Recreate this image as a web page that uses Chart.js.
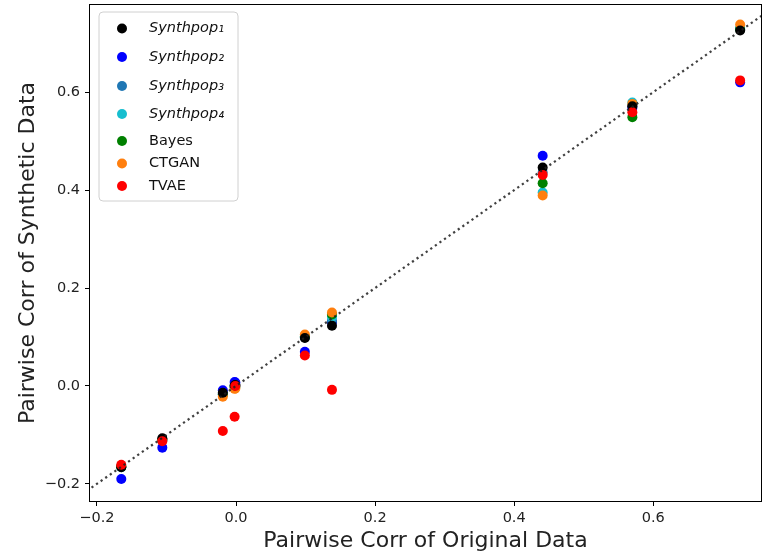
<!DOCTYPE html>
<html><head><meta charset="utf-8">
<script src="https://cdn.jsdelivr.net/npm/chart.js@4"></script>
<style>html,body{margin:0;padding:0;background:#fff}</style>
</head><body>
<canvas id="c" width="762" height="558"></canvas>
<script>
// ---- data ----
const xOriginal = [-0.165, -0.106, -0.019, -0.002, -0.001, 0.099, 0.138, 0.441, 0.570, 0.725];
const synthpop1 = [-0.166, -0.107, -0.014, 0.001, 0.002, 0.098, 0.123, 0.446, 0.571, 0.726];
const synthpop2 = [-0.190, -0.126, -0.009, 0.008, 0.007, 0.070, 0.130, 0.470, 0.568, 0.620];
const synthpop3 = [-0.164, -0.109, -0.016, 0.000, 0.001, 0.099, 0.133, 0.436, 0.573, 0.729];
const synthpop4 = [-0.166, -0.111, -0.017, -0.001, 0.000, 0.100, 0.141, 0.395, 0.579, 0.731];
const bayes     = [-0.165, -0.110, -0.018, -0.003, -0.002, 0.101, 0.146, 0.414, 0.549, 0.728];
const ctgan     = [-0.164, -0.110, -0.022, -0.006, -0.005, 0.105, 0.150, 0.389, 0.576, 0.738];
const tvae      = [-0.161, -0.113, -0.092, -0.063, 0.000, 0.062, -0.008, 0.431, 0.559, 0.624];
const seriesNames = ['Synthpop\u2081', 'Synthpop\u2082', 'Synthpop\u2083', 'Synthpop\u2084', 'Bayes', 'CTGAN', 'TVAE'];
const seriesValues = [synthpop1, synthpop2, synthpop3, synthpop4, bayes, ctgan, tvae];
const xTicks = [-0.2, 0.0, 0.2, 0.4, 0.6];
const yTicks = [-0.2, 0.0, 0.2, 0.4, 0.6];
const identityLine = [-0.3, 0.9];

// ---- styles ----
const colors = ['#000000', '#0000ff', '#1f77b4', '#17becf', '#008000', '#ff7f0e', '#ff0000'];
const drawOrder = [2, 7, 6, 5, 4, 3, 1]; // lower = on top
const FONT = '"DejaVu Sans", Verdana, sans-serif';

const datasets = seriesNames.map((name, i) => ({
  type: 'scatter',
  label: name,
  data: xOriginal.map((x, k) => ({x: x, y: seriesValues[i][k]})),
  backgroundColor: colors[i],
  borderWidth: 0,
  pointRadius: 5,
  pointHoverRadius: 5,
  order: drawOrder[i]
}));
datasets.push({
  type: 'line',
  label: 'y = x',
  data: identityLine.map(v => ({x: v, y: v})),
  borderColor: 'rgba(30,30,30,0.85)',
  borderWidth: 2.2,
  borderDash: [2.2, 3.4],
  pointRadius: 0,
  fill: false,
  order: 0
});

const fmt = v => (v < 0 ? '\u2212' : '') + Math.abs(v).toFixed(1);

const framePlugin = {
  id: 'frame',
  afterDraw(chart) {
    const {ctx, chartArea: a} = chart;
    ctx.save();
    ctx.strokeStyle = '#000';
    ctx.lineWidth = 1;
    ctx.strokeRect(a.left - 0.5, a.top - 0.5, a.right - a.left + 1, a.bottom - a.top + 1);
    ctx.restore();
  }
};

const legendPlugin = {
  id: 'customLegend',
  afterDraw(chart) {
    const ctx = chart.ctx;
    const a = chart.chartArea;
    const bx = a.left + 9, by = a.top + 7, bw = 139, bh = 189, r = 4;
    ctx.save();
    ctx.beginPath();
    ctx.moveTo(bx + r, by);
    ctx.arcTo(bx + bw, by, bx + bw, by + bh, r);
    ctx.arcTo(bx + bw, by + bh, bx, by + bh, r);
    ctx.arcTo(bx, by + bh, bx, by, r);
    ctx.arcTo(bx, by, bx + bw, by, r);
    ctx.closePath();
    ctx.fillStyle = 'rgba(255,255,255,0.85)';
    ctx.fill();
    ctx.strokeStyle = '#d0d0d0';
    ctx.lineWidth = 1;
    ctx.stroke();
    const rows = [23.5, 52, 81, 109, 136, 158.5, 181];
    seriesNames.forEach((name, i) => {
      const y = a.top + rows[i];
      ctx.beginPath();
      ctx.arc(a.left + 32, y, 5, 0, Math.PI * 2);
      ctx.fillStyle = colors[i];
      ctx.fill();
      const italic = name.indexOf('Synthpop') === 0;
      ctx.font = (italic ? 'italic ' : '') + '14.5px ' + FONT;
      ctx.fillStyle = '#111';
      ctx.textBaseline = 'middle';
      ctx.textAlign = 'left';
      ctx.fillText(name, a.left + 59, y);
    });
    ctx.restore();
  }
};

new Chart(document.getElementById('c'), {
  data: {datasets},
  options: {
    responsive: false,
    animation: false,
    layout: {autoPadding: false, padding: {top: 5, right: 1, left: 0, bottom: 0}},
    plugins: {legend: {display: false}, tooltip: {enabled: false}},
    scales: {
      x: {
        type: 'linear',
        min: -0.21, max: 0.755,
        afterBuildTicks: s => { s.ticks = xTicks.map(v => ({value: v})); },
        afterFit: s => { s.height = 57; s.paddingLeft = 0; s.paddingRight = 0; },
        grid: {display: true, drawOnChartArea: false, drawTicks: true, tickLength: 5, color: '#000', tickWidth: 1},
        border: {display: false},
        ticks: {font: {family: FONT, size: 14.5}, color: '#222', padding: 4, maxRotation: 0, callback: v => fmt(v)},
        title: {display: true, text: 'Pairwise Corr of Original Data', font: {family: FONT, size: 22}, color: '#222', padding: {top: 0, bottom: 4}}
      },
      y: {
        type: 'linear',
        min: -0.235, max: 0.778,
        afterBuildTicks: s => { s.ticks = yTicks.map(v => ({value: v})); },
        afterFit: s => { s.width = 90; s.paddingTop = 0; s.paddingBottom = 0; },
        grid: {display: true, drawOnChartArea: false, drawTicks: true, tickLength: 5, color: '#000', tickWidth: 1},
        border: {display: false},
        ticks: {font: {family: FONT, size: 14.5}, color: '#222', padding: 5, callback: v => fmt(v)},
        title: {display: true, text: 'Pairwise Corr of Synthetic Data', font: {family: FONT, size: 22}, color: '#222', padding: {top: 15, bottom: 0}}
      }
    }
  },
  plugins: [framePlugin, legendPlugin]
});
</script>
</body></html>
